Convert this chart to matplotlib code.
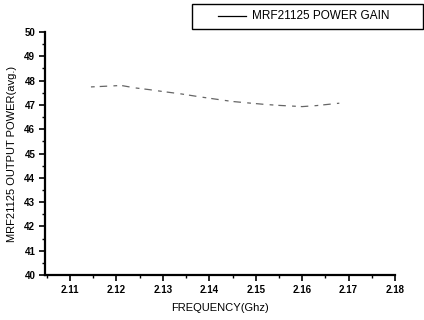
import matplotlib
matplotlib.use("Agg")
import matplotlib.pyplot as plt
from matplotlib.lines import Line2D
from matplotlib.patches import Rectangle
from matplotlib.ticker import MultipleLocator

freq = [2.1145, 2.119, 2.121, 2.124, 2.127, 2.130, 2.134, 2.138, 2.142,
        2.145, 2.149, 2.152, 2.155, 2.160, 2.163, 2.166, 2.168]
gain = [47.74, 47.78, 47.80, 47.70, 47.63, 47.55, 47.45, 47.33, 47.22,
        47.14, 47.07, 47.02, 46.98, 46.93, 46.97, 47.03, 47.07]
xticks = [2.11, 2.12, 2.13, 2.14, 2.15, 2.16, 2.17, 2.18]
yticks = list(range(40, 51))
series_label = "MRF21125 POWER GAIN"

plt.rcParams['font.family'] = ['Liberation Sans', 'DejaVu Sans']

W, H = 424, 320
fig = plt.figure(figsize=(W/100, H/100), dpi=100)
ax = fig.add_axes([45/W, 1-275/H, (395-45)/W, (275-32)/H])

ax.plot(freq, gain, color='#666666', lw=0.9, linestyle=(0, (3, 4, 6, 5)),
        label=series_label)
ax.set_xlim(2.1046, 2.18)
ax.set_ylim(40, 50)
ax.set_xticks(xticks)
ax.set_xticklabels([f"{v:.2f}" for v in xticks])
ax.set_yticks(yticks)
ax.xaxis.set_minor_locator(MultipleLocator(0.005))
ax.yaxis.set_minor_locator(MultipleLocator(0.5))

for s in ['top', 'right']:
    ax.spines[s].set_visible(False)
for s in ['left', 'bottom']:
    ax.spines[s].set_linewidth(1.6)

ax.tick_params(which='major', direction='out', length=4, width=1.2, labelsize=7, pad=3)
ax.tick_params(which='minor', direction='out', length=2.5, width=1.0)
for lab in ax.get_xticklabels() + ax.get_yticklabels():
    lab.set_fontweight('bold')

ax.set_xlabel("FREQUENCY(Ghz)", fontsize=8, labelpad=6)
ax.set_ylabel("MRF21125 OUTPUT POWER(avg.)", fontsize=8, labelpad=5)

# legend box (drawn in figure pixel space)
fig.patches.append(Rectangle((192/W, 1-29/H), (423-192)/W, 25/H,
                             transform=fig.transFigure, fill=False,
                             edgecolor='black', lw=1.0))
fig.lines.append(Line2D([218/W, 246/W], [1-16/H, 1-16/H],
                        transform=fig.transFigure, color='black', lw=0.9))
fig.text(252/W, 1-16/H, series_label, fontsize=8.5, va='center', ha='left')

fig.savefig("out.png", dpi=100)
